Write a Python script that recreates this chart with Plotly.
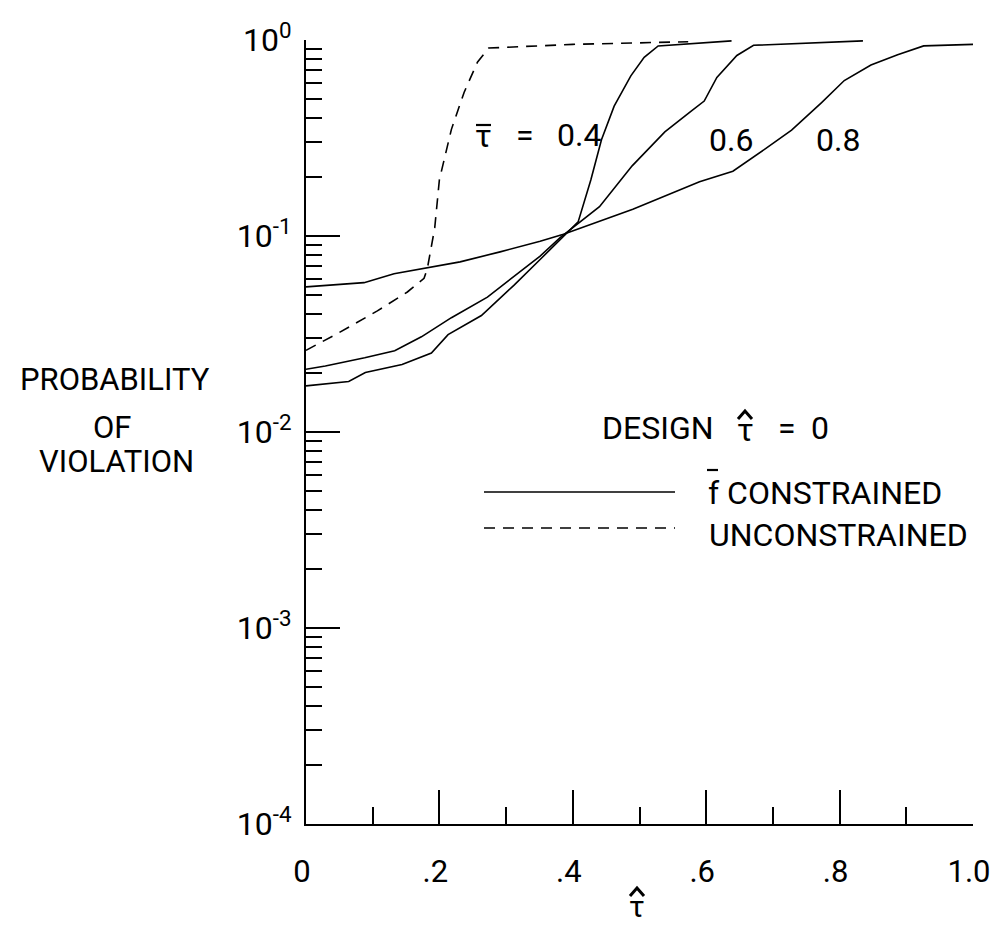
import plotly.graph_objects as go

# ---------------- data ----------------
x_dashed = [0.0, 0.048, 0.107, 0.152, 0.177, 0.182, 0.193, 0.200, 0.218, 0.237, 0.257, 0.274, 0.40, 0.573]
p_dashed = [0.0261, 0.0319, 0.0415, 0.0518, 0.0608, 0.0684, 0.110, 0.194, 0.35, 0.54, 0.77, 0.91, 0.95, 0.98]

x_04 = [0.0, 0.064, 0.089, 0.144, 0.188, 0.213, 0.263, 0.312, 0.351, 0.386, 0.408, 0.427, 0.443, 0.462, 0.487, 0.507, 0.528, 0.638]
p_04 = [0.0172, 0.0181, 0.0201, 0.0221, 0.0253, 0.0314, 0.0393, 0.0562, 0.0759, 0.100, 0.118, 0.193, 0.31, 0.46, 0.656, 0.816, 0.932, 0.99]

x_06 = [0.0, 0.029, 0.088, 0.133, 0.173, 0.218, 0.272, 0.322, 0.351, 0.381, 0.44, 0.489, 0.538, 0.577, 0.597, 0.616, 0.646, 0.671, 0.835]
p_06 = [0.0209, 0.0217, 0.0239, 0.026, 0.0306, 0.0383, 0.0488, 0.066, 0.079, 0.098, 0.141, 0.228, 0.34, 0.432, 0.488, 0.644, 0.834, 0.94, 0.99]

x_08 = [0.0, 0.087, 0.132, 0.182, 0.231, 0.291, 0.351, 0.386, 0.49, 0.59, 0.64, 0.689, 0.728, 0.773, 0.807, 0.847, 0.887, 0.926, 1.0]
p_08 = [0.055, 0.0578, 0.0642, 0.0686, 0.0738, 0.083, 0.094, 0.102, 0.137, 0.189, 0.214, 0.279, 0.347, 0.479, 0.621, 0.745, 0.842, 0.933, 0.95]

x_major = [0, 0.2, 0.4, 0.6, 0.8, 1.0]
x_major_text = ["0", ".2", ".4", ".6", ".8", "1.0"]
x_minor = [0.1, 0.3, 0.5, 0.7, 0.9]
y_major = [1e-4, 1e-3, 1e-2, 1e-1, 1e0]
y_major_text = ["10<sup>-4</sup>", "10<sup>-3</sup>", "10<sup>-2</sup>", "10<sup>-1</sup>", "10<sup>0</sup>"]
y_minor = [m * 10.0 ** e for e in range(-4, 0) for m in range(2, 10)]

tau_bar_values = ["0.4", "0.6", "0.8"]
# ---------------------------------------------------------------

FONT = "Roboto, Liberation Sans, sans-serif"
W, H = 991, 926
L, R, T, B = 306, 18, 40, 102
PW, PH = W - L - R, H - T - B


def fx(xp):                  # screen pixel -> paper
    return (xp - L) / PW


def fy(yp):
    return (H - B - yp) / PH


fig = go.Figure()
DASH = "11px,8px"
fig.add_trace(go.Scatter(x=x_dashed, y=p_dashed, mode="lines",
                         line=dict(color="black", width=1.6, dash=DASH)))
for xs, ps in [(x_04, p_04), (x_06, p_06), (x_08, p_08)]:
    fig.add_trace(go.Scatter(x=xs, y=ps, mode="lines", line=dict(color="black", width=1.6)))

ann = []
shapes = []


def text(s, xp, yp, size=32, xanchor="center"):
    ann.append(dict(text=s, x=fx(xp), y=fy(yp), xref="paper", yref="paper",
                    showarrow=False, xanchor=xanchor, yanchor="middle",
                    font=dict(family=FONT, size=size, color="black")))


def bar(x0, x1, yp, w=2.2):
    shapes.append(dict(type="line", xref="paper", yref="paper", x0=fx(x0), x1=fx(x1),
                       y0=fy(yp), y1=fy(yp), line=dict(color="black", width=w)))


def hat(xc, ytop, half=7, depth=8, w=3):
    path = "M {} {} L {} {} L {} {}".format(fx(xc - half), fy(ytop + depth), fx(xc), fy(ytop),
                                            fx(xc + half), fy(ytop + depth))
    shapes.append(dict(type="path", xref="paper", yref="paper", path=path,
                       line=dict(color="black", width=w)))


# curve labels  (tau-bar = 0.4, 0.6, 0.8)
text("\u03c4", 483, 136)
bar(476, 491, 125)
text("=", 525, 135)
text(tau_bar_values[0], 579, 135)
text(tau_bar_values[1], 731, 140)
text(tau_bar_values[2], 838, 140)

# y-axis title
text("PROBABILITY", 115, 379, size=31)
text("OF", 112, 427, size=31)
text("VIOLATION", 116, 462, size=31)

# x-axis title  (tau-hat)
text("\u03c4", 637, 906, size=30)
hat(637, 888)

# key
text("DESIGN", 600, 428, xanchor="left")
text("\u03c4", 745, 430)
hat(745, 411)
text("=", 787, 428)
text("0", 820, 428)

shapes.append(dict(type="line", xref="paper", yref="paper", x0=fx(484), x1=fx(675),
                   y0=fy(492), y1=fy(492), line=dict(color="black", width=1.6)))
shapes.append(dict(type="line", xref="paper", yref="paper", x0=fx(484), x1=fx(675),
                   y0=fy(528), y1=fy(528), line=dict(color="black", width=1.6, dash=DASH)))
text("f CONSTRAINED", 706, 493, xanchor="left")
bar(707, 718, 470)
text("UNCONSTRAINED", 707, 535, xanchor="left")

fig.update_layout(
    width=W, height=H,
    margin=dict(l=L, r=R, t=T, b=B, pad=0, autoexpand=False),
    paper_bgcolor="white", plot_bgcolor="white",
    showlegend=False,
    annotations=ann, shapes=shapes,
    font=dict(family=FONT, size=32, color="black"),
)
fig.update_xaxes(
    range=[0, 1.0], showgrid=False, zeroline=False, automargin=False,
    showline=True, linecolor="black", linewidth=2,
    tickmode="array", tickvals=x_major, ticktext=x_major_text,
    ticks="inside", ticklen=34, tickwidth=1.5, tickcolor="black",
    ticklabelstandoff=19, ticklabelshift=-4, ticklabeloverflow="allow",
    tickfont=dict(family=FONT, size=31, color="black"),
    minor=dict(tickmode="array", tickvals=x_minor, ticks="inside", ticklen=17,
               tickwidth=1.5, tickcolor="black", showgrid=False),
)
fig.update_yaxes(
    type="log", range=[-4, 0], showgrid=False, zeroline=False, automargin=False,
    showline=True, linecolor="black", linewidth=2,
    tickmode="array", tickvals=y_major, ticktext=y_major_text,
    ticks="inside", ticklen=34, tickwidth=1.5, tickcolor="black",
    ticklabelstandoff=6, ticklabeloverflow="allow",
    tickfont=dict(family=FONT, size=32, color="black"),
    minor=dict(tickmode="array", tickvals=y_minor, ticks="inside", ticklen=16,
               tickwidth=1.5, tickcolor="black", showgrid=False),
)

fig.write_html(
    "out.html",
    config={"displayModeBar": False},
    post_script="document.body.style.margin='0px';document.body.style.padding='0px';"
                "document.body.style.overflow='hidden';",
)
